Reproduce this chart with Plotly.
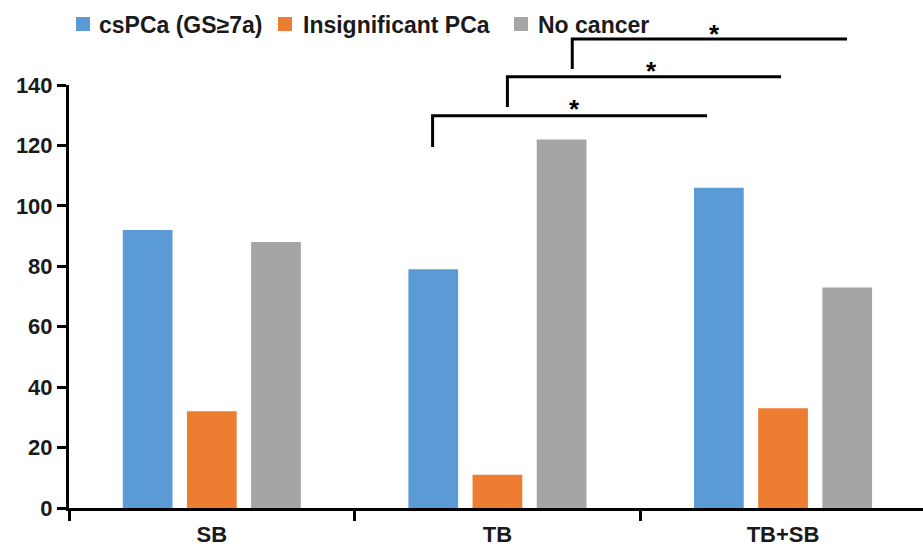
import plotly.graph_objects as go

# Biopsy strategies and outcome counts
categories = ["SB", "TB", "TB+SB"]
series_names = ["csPCa (GS\u22657a)", "Insignificant PCa", "No cancer"]
cspca = [92, 79, 106]
insignificant = [32, 11, 33]
no_cancer = [88, 122, 73]
colors = ["#5B9BD5", "#ED7D31", "#A5A5A5"]
y_ticks = [0, 20, 40, 60, 80, 100, 120, 140]

# Significance brackets: (x start, x end, bar level, drop level, star x, star level)
brackets = [
    (0.773, 1.734, 129.8, 119.5, 1.269, 134.1),
    (1.035, 1.993, 142.7, 132.7, 1.538, 146.6),
    (1.262, 2.224, 155.2, 145.3, 1.759, 158.9),
]

Y_MAX = 140
FONT = "Liberation Sans, Arial, sans-serif"
W, H = 923, 548
M_L, M_R, M_T, M_B = 69, 0, 85, 40

fig = go.Figure()
for name, vals, col in zip(series_names, [cspca, insignificant, no_cancer], colors):
    fig.add_trace(go.Bar(x=categories, y=vals, name=name, marker=dict(color=col, line=dict(width=0)),
                         showlegend=False))

shapes = []
annotations = []
for x0, x1, top, drop, sx, sy in brackets:
    shapes.append(dict(type="path", xref="x", yref="paper",
                       path=f"M {x0},{drop / Y_MAX} L {x0},{top / Y_MAX} L {x1},{top / Y_MAX}",
                       line=dict(color="black", width=3)))
    annotations.append(dict(x=sx, y=sy / Y_MAX, xref="x", yref="paper", text="<b>*</b>",
                            showarrow=False, xanchor="center", yanchor="middle",
                            font=dict(family=FONT, size=26, color="black"), yshift=-6))

# Legend drawn as swatches and labels across the top
plot_w = W - M_L - M_R
plot_h = H - M_T - M_B


def px_x(px):
    return (px - M_L) / plot_w


def px_y(py):
    return (H - M_B - py) / plot_h


legend_items = [(83, 97), (285, 301), (521, 536)]
for (sq_cx, tx), name, col in zip(legend_items, series_names, colors):
    shapes.append(dict(type="rect", xref="paper", yref="paper",
                       x0=px_x(sq_cx - 7), x1=px_x(sq_cx + 7), y0=px_y(31), y1=px_y(17),
                       fillcolor=col, line=dict(width=0)))
    annotations.append(dict(x=px_x(tx), y=px_y(25), xref="paper", yref="paper", text=name,
                            showarrow=False, xanchor="left", yanchor="middle",
                            font=dict(family=FONT, size=23, color="#1a1a1a", weight="bold")))

fig.update_layout(
    width=W, height=H,
    margin=dict(l=M_L, r=M_R, t=M_T, b=M_B, pad=0),
    paper_bgcolor="white", plot_bgcolor="white",
    barmode="group", bargap=0.326, bargroupgap=0.225,
    shapes=shapes, annotations=annotations,
    font=dict(family=FONT, color="#1a1a1a"),
)
fig.update_xaxes(
    range=[-0.5, 2.49], showgrid=False, zeroline=False,
    showline=True, linecolor="black", linewidth=3,
    ticks="outside", tickson="boundaries", ticklen=10, tickwidth=3, tickcolor="black",
    ticklabelstandoff=5,
    tickfont=dict(family=FONT, size=22, color="#1a1a1a", weight="bold"),
)
fig.update_yaxes(
    range=[0, Y_MAX], tickvals=y_ticks, showgrid=False, zeroline=False,
    showline=True, linecolor="black", linewidth=3,
    ticks="outside", ticklen=9, tickwidth=3, tickcolor="black",
    tickfont=dict(family=FONT, size=22, color="#1a1a1a", weight="bold"),
)

fig.write_html("out.html")
